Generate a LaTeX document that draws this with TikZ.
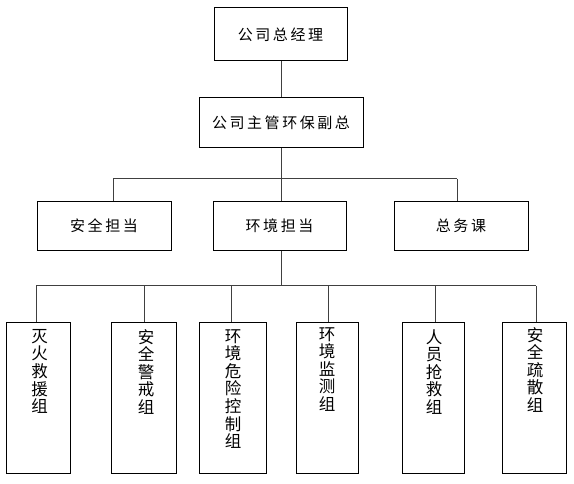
\documentclass[tikz,border=0pt]{standalone}
\usepackage{fontspec}
\newfontfamily\cjk[LetterSpace=17]{Noto Sans CJK SC}
\newfontfamily\cjkv{Noto Sans CJK SC}
\begin{document}
\begin{tikzpicture}[x=1pt,y=-1pt,
  box/.style={draw=black, line width=1pt, rectangle, inner sep=0pt, font=\cjk\fontsize{15}{18}\selectfont},
  vbox/.style={draw=black, line width=1pt, rectangle, inner sep=0pt, minimum height=150pt},
  vtext/.style={anchor=north, align=center, inner sep=0pt, font=\cjkv\fontsize{16.5}{17.6}\selectfont},
  conn/.style={draw=black!75, line width=1pt}]
\useasboundingbox (0,0) rectangle (574,484);
% levels
\node[box, minimum width=133pt, minimum height=53pt] (ceo) at (280.5,34.5) {公司总经理};
\node[box, minimum width=164pt, minimum height=50pt] (vp) at (281,123) {公司主管环保副总};
\node[box, minimum width=134pt, minimum height=49pt] (m1) at (104,226) {安全担当};
\node[box, minimum width=133pt, minimum height=49pt] (m2) at (279.5,226) {环境担当};
\node[box, minimum width=134pt, minimum height=49pt] (m3) at (461,226) {总务课};
% bottom boxes
\node[vbox, minimum width=64pt] (b1) at (38,398) {};
\node[vbox, minimum width=65pt] (b2) at (143.5,398) {};
\node[vbox, minimum width=67pt] (b3) at (232.5,398) {};
\node[vbox, minimum width=62pt] (b4) at (327,398) {};
\node[vbox, minimum width=62pt] (b5) at (433,398) {};
\node[vbox, minimum width=64pt] (b6) at (534,398) {};
\node[vtext] (t1) at (39.5,329) {灭\\火\\救\\援\\组};
\node[vtext] (t2) at (146,329) {安\\全\\警\\戒\\组};
\node[vtext] (t3) at (233,329) {环\\境\\危\\险\\控\\制\\组};
\node[vtext] (t4) at (327,327) {环\\境\\监\\测\\组};
\node[vtext] (t5) at (434,329) {人\\员\\抢\\救\\组};
\node[vtext] (t6) at (535,327) {安\\全\\疏\\散\\组};
% junction coordinates
\coordinate (ja) at (113,179);
\coordinate (jb) at (281,179);
\coordinate (jc) at (457,179);
\coordinate (ka) at (36,286);
\coordinate (kb) at (144,286);
\coordinate (kc) at (231,286);
\coordinate (kd) at (281,286);
\coordinate (ke) at (328,286);
\coordinate (kf) at (435,286);
\coordinate (kg) at (536,286);
% connectors
\draw[conn] (ceo.south -| jb) -- (vp.north -| jb);
\draw[conn] (vp.south -| jb) -- (jb);
\draw[conn] (ja) -- (jc);
\draw[conn] (ja) -- (ja |- m1.north);
\draw[conn] (jb) -- (jb |- m2.north);
\draw[conn] (jc) -- (jc |- m3.north);
\draw[conn] (m2.south -| kd) -- (kd);
\draw[conn] (ka) -- (kg);
\draw[conn] (ka) -- (ka |- b1.north);
\draw[conn] (kb) -- (kb |- b2.north);
\draw[conn] (kc) -- (kc |- b3.north);
\draw[conn] (ke) -- (ke |- b4.north);
\draw[conn] (kf) -- (kf |- b5.north);
\draw[conn] (kg) -- (kg |- b6.north);
\end{tikzpicture}
\end{document}
